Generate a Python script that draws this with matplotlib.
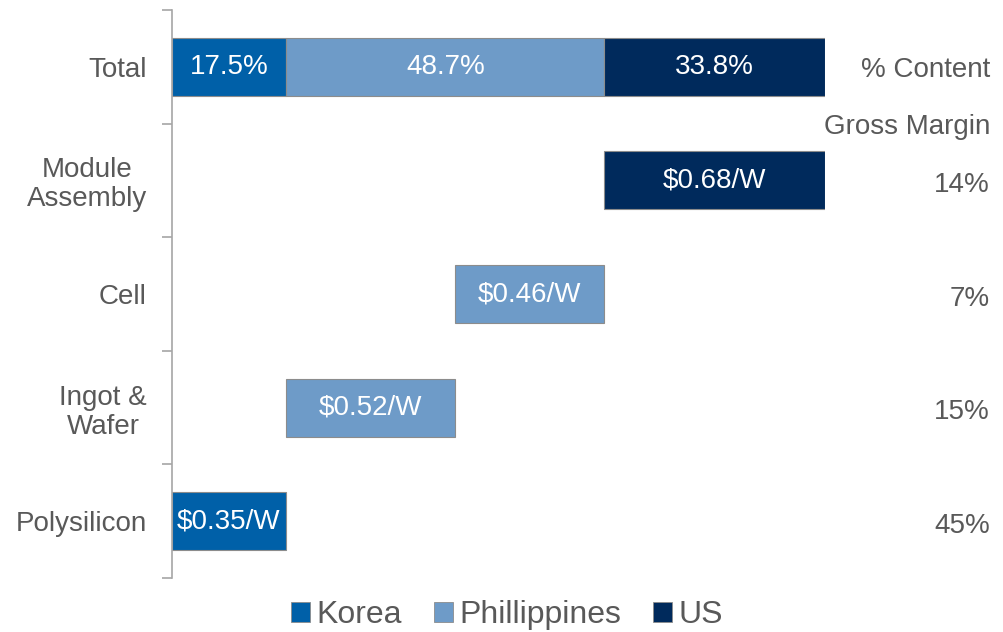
import matplotlib.pyplot as plt
from matplotlib.patches import Patch
from matplotlib.transforms import blended_transform_factory

plt.rcParams['font.family'] = ['Liberation Sans', 'DejaVu Sans']

# data
stages = ["Polysilicon", "Ingot &\nWafer", "Cell", "Module\nAssembly", "Total"]
stage_cost = [0.35, 0.52, 0.46, 0.68]           # $/W added at each step
stage_country = ["Korea", "Phillippines", "Phillippines", "US"]
gross_margin = ["45%", "15%", "7%", "14%"]
countries = ["Korea", "Phillippines", "US"]
content_pct = [17.5, 48.7, 33.8]
colors = {"Korea": "#0060a8", "Phillippines": "#6e9bc8", "US": "#002a5c"}
text_gray = "#595959"

fig = plt.figure(figsize=(10.04, 6.32), dpi=100)
ax = fig.add_axes([172 / 1004, 54 / 632, (825 - 172) / 1004, 568 / 632])

total = sum(stage_cost)
h = 0.51

# waterfall steps
left = 0
for i, (c, who) in enumerate(zip(stage_cost, stage_country)):
    ax.barh(i, c, left=left, height=h, color=colors[who],
            edgecolor="#8c8c8c", linewidth=0.8)
    ax.text(left + c / 2, i, f"${c:.2f}/W", ha="center", va="center",
            color="white", fontsize=20)
    left += c

# total bar split by country content
left = 0
for who, p in zip(countries, content_pct):
    w = total * p / 100
    ax.barh(4, w, left=left, height=h, color=colors[who],
            edgecolor="#8c8c8c", linewidth=0.8)
    ax.text(left + w / 2, 4, f"{p:.1f}%", ha="center", va="center",
            color="white", fontsize=20)
    left += w

ax.set_xlim(0, total)
ax.set_ylim(-0.5, 4.5)
ax.set_yticks(range(len(stages)))
ax.set_yticklabels(stages, fontsize=20, color=text_gray, linespacing=1.15)
for lab in ax.get_yticklabels():
    lab.set_multialignment("center")
ax.tick_params(axis="y", which="major", length=0, pad=18)
ax.set_yticks([i - 0.5 for i in range(len(stages) + 1)], minor=True)
ax.tick_params(axis="y", which="minor", length=7, color="#a6a6a6", width=1.2)
ax.set_xticks([])
for s in ["top", "right", "bottom"]:
    ax.spines[s].set_visible(False)
ax.spines["left"].set_color("#a6a6a6")
ax.spines["left"].set_linewidth(1.2)

# right side annotations
xr = 990 / 1004
fig.text(xr, 1 - 70 / 632, "% Content", ha="right", va="center",
         fontsize=20, color=text_gray)
fig.text(xr, 1 - 127 / 632, "Gross Margin", ha="right", va="center",
         fontsize=20, color=text_gray)
tr = blended_transform_factory(fig.transFigure, ax.transData)
for i, gm in enumerate(gross_margin):
    ax.text(xr, i - 0.04, gm, transform=tr,
            ha="right", va="center", fontsize=20, color=text_gray)

handles = [Patch(facecolor=colors[c], edgecolor="#8c8c8c", linewidth=0.6)
           for c in countries]
fig.legend(handles, countries, loc="center", ncol=3,
           bbox_to_anchor=(507 / 1004, 1 - 615 / 632), frameon=False,
           fontsize=23, labelcolor=text_gray, handlelength=0.6,
           handleheight=0.6, handletextpad=0.2, columnspacing=1.0)

fig.savefig("out.png", dpi=100)
